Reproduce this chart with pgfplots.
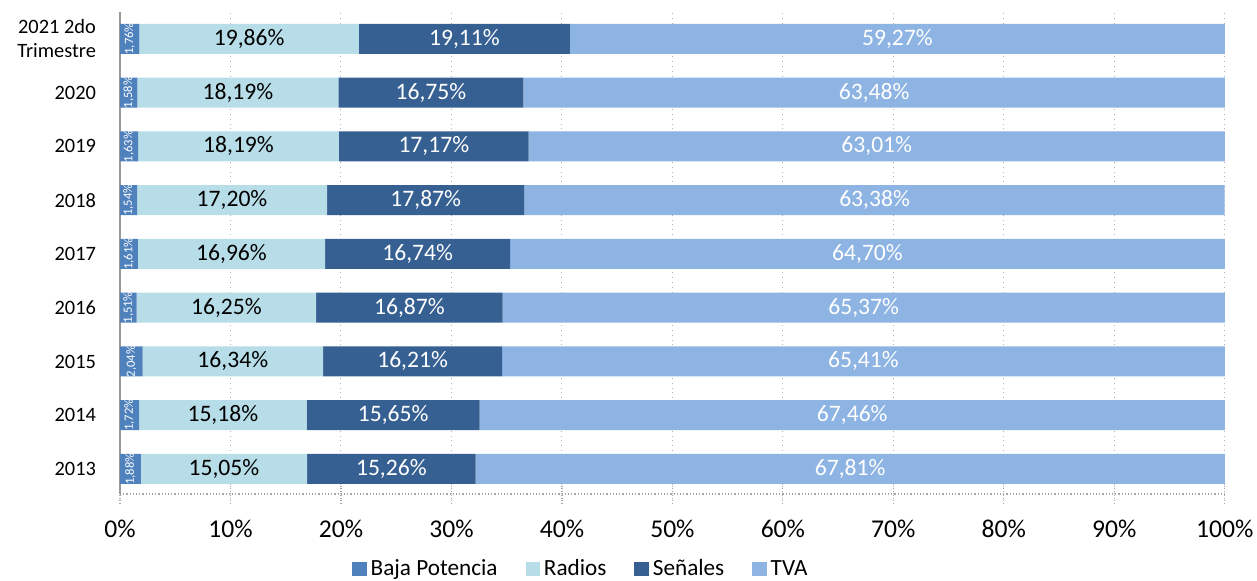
\documentclass[border=0pt]{standalone}
\usepackage{pgfplots}
\pgfplotsset{compat=1.18}
\usepackage{pgfplotstable}
\usepackage{fontspec}
\setmainfont{Carlito}

\definecolor{baja}{RGB}{79,129,189}
\definecolor{radios}{RGB}{183,221,232}
\definecolor{senales}{RGB}{55,96,146}
\definecolor{tva}{RGB}{142,180,227}

\pgfplotsset{sqlegend/.style={legend image code/.code={\fill[##1] (0pt,-3.6pt) rectangle (7.2pt,3.6pt);}}}

\pgfplotstableread{
y baja radios senales tva
0 1.88 15.05 15.26 67.81
1 1.72 15.18 15.65 67.46
2 2.04 16.34 16.21 65.41
3 1.51 16.25 16.87 65.37
4 1.61 16.96 16.74 64.70
5 1.54 17.20 17.87 63.38
6 1.63 18.19 17.17 63.01
7 1.58 18.19 16.75 63.48
8 1.76 19.86 19.11 59.27
}\data

\begin{document}
\begin{tikzpicture}
\useasboundingbox (0,0) rectangle (628.5pt,290.5pt);
\begin{axis}[
  at={(60pt,43.5pt)}, anchor=south west,
  scale only axis, width=552.5pt, height=241pt,
  xbar stacked, bar width=0.558,
  xmin=0, xmax=100.02, ymin=-0.465, ymax=8.5,
  axis lines*=left,
  x axis line style={gray!70, densely dotted, line width=0.6pt},
  y axis line style={gray!80, line width=0.8pt},
  xmajorgrids, grid style={gray!60, dotted, line width=0.5pt},
  xtick={0,10,...,100},
  xticklabel={\pgfmathprintnumber{\tick}\%},
  /pgf/number format/assume math mode=true,
  tick align=center, major tick length=9pt,
  x tick style={gray!70, densely dotted, line width=0.6pt},
  xticklabel style={font=\fontsize{12.8}{14}\selectfont, yshift=-5pt},
  ytick={0,...,8},
  yticklabels={2013,2014,2015,2016,2017,2018,2019,2020,{2021 2do\\Trimestre}},
  yticklabel style={align=right, font=\fontsize{10.2}{12}\selectfont, xshift=-4pt},
  y tick style={draw=none},
  legend style={at={(0.418,-0.156)}, anchor=center, draw=none, legend columns=4,
    font=\fontsize{11.6}{13}\selectfont,
    /tikz/every even column/.append style={column sep=12pt}},
  nodes near coords={\pgfmathprintnumber[fixed,fixed zerofill,precision=2,use comma]{\pgfplotspointmeta}\%},
]
\addplot[fill=baja, draw=none, sqlegend,
  nodes near coords style={text=white, font=\fontsize{6.3}{6.3}\selectfont, anchor=center, rotate=90}]
  table[x=baja, y=y, meta=baja]{\data};
\addplot[fill=radios, draw=none, sqlegend,
  nodes near coords style={text=black, font=\fontsize{11.8}{13}\selectfont, anchor=center}]
  table[x=radios, y=y, meta=radios]{\data};
\addplot[fill=senales, draw=none, sqlegend,
  nodes near coords style={text=white, font=\fontsize{11.8}{13}\selectfont, anchor=center}]
  table[x=senales, y=y, meta=senales]{\data};
\addplot[fill=tva, draw=none, sqlegend,
  nodes near coords style={text=white, font=\fontsize{11.8}{13}\selectfont, anchor=center}]
  table[x=tva, y=y, meta=tva]{\data};
\legend{Baja Potencia, Radios, Señales, TVA}
\end{axis}
\end{tikzpicture}
\end{document}
